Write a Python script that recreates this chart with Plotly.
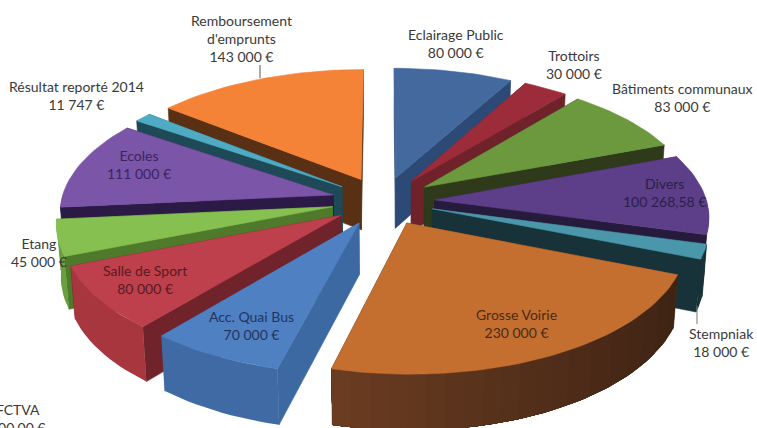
import numpy as np
import plotly.graph_objects as go

categories = ["Eclairage Public", "Trottoirs", "Bâtiments communaux", "Divers", "Stempniak",
              "Grosse Voirie", "FCTVA", "Acc. Quai Bus", "Salle de Sport", "Etang",
              "Ecoles", "Résultat reporté 2014", "Remboursement d'emprunts"]
values = [80000, 30000, 83000, 100268.58, 18000, 230000, 0, 70000, 80000, 45000, 111000, 11747, 143000]
value_labels = ["80 000 €", "30 000 €", "83 000 €", "100 268,58 €", "18 000 €", "230 000 €", "000,00 €",
                "70 000 €", "80 000 €", "45 000 €", "111 000 €", "11 747 €", "143 000 €"]
top_colors = ["#44699f", "#9c2c39", "#6c983e", "#5c3f88", "#4a97ab", "#c46f30", "#4f81bd",
              "#4f80c2", "#bd404c", "#85c050", "#7b55a8", "#4fabc4", "#f58337"]
outer_colors = ["#2e4d78", "#6f2229", "#2e3a1a", "#261a3d", "#173238", "#4c2b18", "#4f81bd",
                "#3f6aa4", "#a8363f", "#6aa03c", "#2a1a45", "#1d4a56", "#5a3015"]
cut_colors = ["#2c4a75", "#6f2229", "#2e3a1a", "#261a3d", "#173238", "#4c2b18", "#4f81bd",
              "#3d69a3", "#70232b", "#4f7a2c", "#2a1a45", "#1d4a56", "#5a3015"]

label_x = [456, 574, 682, 664, 721, 516, 17, 251, 145, 39, 139, 76, 241]
label_y = [43, 64, 97, 192, 342, 323, 418, 325, 279, 252, 164, 95, 38]
label_col = ["#3a3a3a", "#3a3a3a", "#3a3a3a", "#2a1f4a", "#3a3a3a", "#4a2a10", "#3a3a3a",
             "#1f3560", "#5a1a20", "#3a3a3a", "#3a2560", "#3a3a3a", "#3a3a3a"]

EXPLODE, DEPTH = 0.19, 0.215
CX, CY, F, D = 383.0, 201.0, 2040.0, 7.5
EL = np.radians(28)
total = sum(values)


def project(X, Y, Z):
    up = Y * np.sin(EL) + Z * np.cos(EL)
    dist = D + Y * np.cos(EL) - Z * np.sin(EL)
    return CX + F * X / dist, CY - F * up / dist


def shade(hex_col, k):
    rgb = [int(hex_col[j:j + 2], 16) for j in (1, 3, 5)]
    return "#%02x%02x%02x" % tuple(min(255, int(c * k)) for c in rgb)


slices = []
start = 0.0
for i, v in enumerate(values):
    span = v / total * 2 * np.pi
    if v > 0:
        slices.append((i, start, span))
    start += span
slices.sort(key=lambda s: -np.cos(s[1] + s[2] / 2))

fig = go.Figure()


def poly(x, y, color, lw=0.6):
    fig.add_trace(go.Scatter(x=np.r_[x, x[0]], y=np.r_[y, y[0]], mode="lines", fill="toself", fillcolor=color,
                             line=dict(color=color, width=lw), hoverinfo="skip", showlegend=False))


for i, s, span in slices:
    mid = s + span / 2
    ox, oy = EXPLODE * np.sin(mid), EXPLODE * np.cos(mid)
    th = np.linspace(s, s + span, max(4, int(span / 0.03)))
    ex, ey = ox + np.sin(th), oy + np.cos(th)
    cuts = sorted([th[0], th[-1]], key=lambda t: -np.cos(t))
    for t in cuts:
        a = np.array([ox, ox + np.sin(t), ox + np.sin(t), ox])
        b = np.array([oy, oy + np.cos(t), oy + np.cos(t), oy])
        c = np.array([0, 0, -DEPTH, -DEPTH])
        poly(*project(a, b, c), cut_colors[i])
    vis = np.where(np.cos(th) < 0.02)[0]
    if len(vis) > 1:
        # Overlapping wall bands: each covers from its start to the wall's end, so no seams show.
        bands = np.array_split(vis[:-1], 20) if i == 5 else [vis[:-1]]
        for band in reversed(bands) if False else bands:
            idx = np.arange(band[0], vis[-1] + 1)
            a = np.r_[ex[idx], ex[idx][::-1]]
            b = np.r_[ey[idx], ey[idx][::-1]]
            c = np.r_[np.zeros(len(idx)), -DEPTH * np.ones(len(idx))]
            tm = th[band].mean()
            poly(*project(a, b, c), shade(outer_colors[i], 1.3 - 0.5 * np.sin(tm) if i == 5 else 1.0), 0)
    poly(*project(np.r_[ox, ex], np.r_[oy, ey], np.zeros(len(th) + 1)), top_colors[i])

fig.update_layout(
    width=757, height=428, margin=dict(l=0, r=0, t=0, b=0), paper_bgcolor="white", plot_bgcolor="white",
    showlegend=False,
    xaxis=dict(range=[0, 757], visible=False, fixedrange=True),
    yaxis=dict(range=[428, 0], visible=False, fixedrange=True),
)

names = list(categories)
names[12] = "Remboursement<br>d'emprunts"
for name, val, x, y, c in zip(names, value_labels, label_x, label_y, label_col):
    fig.add_annotation(x=x, y=y, xref="x", yref="y", text=f"{name}<br>{val}",
                       showarrow=False, xanchor="center", yanchor="middle", align="center",
                       font=dict(family="Lato", size=14, color=c))
fig.add_shape(type="line", x0=260, x1=260, y0=65, y1=78, xref="x", yref="y", line=dict(color="#555555", width=1))
fig.add_shape(type="line", x0=697, x1=697, y0=306, y1=324, xref="x", yref="y", line=dict(color="#777777", width=1))
fig.write_html("out.html", config={"displayModeBar": False},
               post_script="document.body.style.margin='0';document.body.style.overflow='hidden';")
